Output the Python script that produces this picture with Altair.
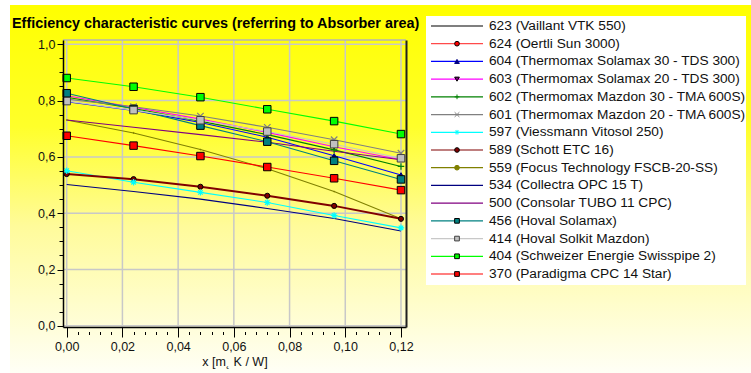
import altair as alt
import pandas as pd

FONT = "Liberation Sans"
TITLE = "Efficiency characteristic curves (referring to Absorber area)"
X_TITLE = "x [m˛ K / W]"

SERIES = [
    "623 (Vaillant VTK 550)",
    "624 (Oertli Sun 3000)",
    "604 (Thermomax Solamax 30 - TDS 300)",
    "603 (Thermomax Solamax 20 - TDS 300)",
    "602 (Thermomax Mazdon 30 - TMA 600S)",
    "601 (Thermomax Mazdon 20 - TMA 600S)",
    "597 (Viessmann Vitosol 250)",
    "589 (Schott ETC 16)",
    "559 (Focus Technology FSCB-20-SS)",
    "534 (Collectra OPC 15 T)",
    "500 (Consolar TUBO 11 CPC)",
    "456 (Hoval Solamax)",
    "414 (Hoval Solkit Mazdon)",
    "404 (Schweizer Energie Swisspipe 2)",
    "370 (Paradigma CPC 14 Star)",
]

X_POINTS = [0.0, 0.024, 0.048, 0.072, 0.096, 0.12]

S604 = [0.796, 0.765, 0.722, 0.670, 0.604, 0.536]
S603 = [0.817, 0.776, 0.734, 0.687, 0.636, 0.590]
S602 = [0.812, 0.772, 0.727, 0.679, 0.625, 0.566]
S601 = [0.805, 0.778, 0.745, 0.705, 0.661, 0.613]
S597 = [0.551, 0.510, 0.474, 0.438, 0.392, 0.348]
S589 = [0.539, 0.521, 0.494, 0.462, 0.426, 0.380]
S559 = [0.731, 0.685, 0.626, 0.558, 0.477, 0.380]
S534 = [0.502, 0.477, 0.450, 0.417, 0.381, 0.337]
S500 = [0.731, 0.705, 0.679, 0.652, 0.620, 0.590]
S456 = [0.826, 0.770, 0.711, 0.654, 0.586, 0.520]
S414 = [0.798, 0.766, 0.730, 0.690, 0.645, 0.595]
S404 = [0.880, 0.849, 0.812, 0.769, 0.727, 0.681]
S370 = [0.675, 0.640, 0.603, 0.564, 0.524, 0.482]

VALUES = {
    SERIES[2]: S604, SERIES[3]: S603, SERIES[4]: S602, SERIES[5]: S601,
    SERIES[6]: S597, SERIES[7]: S589, SERIES[8]: S559, SERIES[9]: S534,
    SERIES[10]: S500, SERIES[11]: S456, SERIES[12]: S414, SERIES[13]: S404,
    SERIES[14]: S370,
}

X_MAJOR = [0.0, 0.02, 0.04, 0.06, 0.08, 0.10, 0.12]
X_TICKS = [round(i * 0.004, 3) for i in range(31)]
Y_MAJOR = [0.0, 0.2, 0.4, 0.6, 0.8, 1.0]
Y_TICKS = [round(i * 0.05, 2) for i in range(21)]

# styles
LINE_COLORS = ["#000000", "#ff4a4a", "#0000ff", "#ff00ff", "#008000", "#808080",
               "#00ffff", "#800000", "#808000", "#000080", "#800080", "#008080",
               "#c8c8c8", "#00ff00", "#ff0000"]
PLUS = "M-1,0L1,0M0,-1L0,1"
XMARK = "M-1,-1L1,1M-1,1L1,-1"
ASTER = "M-1,0L1,0M0,-1L0,1M-0.7,-0.7L0.7,0.7M-0.7,0.7L0.7,-0.7"
MARKER_SERIES = [SERIES[i] for i in [1, 2, 3, 4, 5, 6, 7, 8, 11, 12, 13, 14]]
SHAPES = ["circle", "triangle-up", "triangle-down", PLUS, XMARK, ASTER, "circle",
          "circle", "square", "square", "square", "square"]
FILLS = ["#ff0000", "#000080", "#800080", "transparent", "transparent", "transparent",
         "#800000", "#808000", "#008080", "#c0c0c0", "#00ff00", "#ff0000"]
STROKES = ["#000000", "#000080", "#000000", "#008000", "#808080", "#00ffff",
           "#000000", "#808000", "#000000", "#404040", "#000000", "#000000"]
SQUARE_SERIES = [SERIES[i] for i in [11, 12, 13, 14]]
SMALL_SERIES = [SERIES[i] for i in [1, 2, 3, 7]]
STAR_SERIES = [SERIES[i] for i in [4, 5, 6]]
DOT_SERIES = [SERIES[8]]
THICK_SERIES = [SERIES[7]]

rows = []
for s in SERIES:
    if s in VALUES:
        for xv, yv in zip(X_POINTS, VALUES[s]):
            rows.append({"series": s, "x": xv, "y": yv})
df = pd.DataFrame(rows)
leg_df = pd.DataFrame({"series": SERIES})
one = pd.DataFrame({"a": [0]})

W, H = 343, 287
xscale = alt.Scale(domain=[-0.00133, 0.1218], nice=False, zero=False)
yscale = alt.Scale(domain=[-0.004, 1.015], nice=False, zero=False)

x_major_test = "abs(datum.value*50 - round(datum.value*50)) < 0.001"
y_major_test = "abs(datum.value*5 - round(datum.value*5)) < 0.001"

xaxis = alt.Axis(
    values=X_TICKS, title=X_TITLE, grid=False, zindex=1,
    labelExpr=f"{x_major_test} ? replace(format(datum.value, '.2f'), '.', ',') : ''",
    tickSize={"condition": {"test": x_major_test, "value": 10}, "value": 8},
    tickDash={"condition": {"test": x_major_test, "value": [20, 0]}, "value": [0, 4.5, 3, 20]},
    tickColor="black", tickWidth=1, domainColor="black", domainWidth=1.5,
    labelFont=FONT, labelFontSize=12.5, labelColor="#111111", labelPadding=3,
    labelOverlap=False, labelFlush=False,
    titleFont=FONT, titleFontSize=12.5, titleFontWeight="normal", titleColor="#111111",
    titlePadding=3,
)
yaxis = alt.Axis(
    values=Y_TICKS, title=None, grid=False, zindex=1,
    labelExpr=f"{y_major_test} ? replace(format(datum.value, '.1f'), '.', ',') : ''",
    tickSize={"condition": {"test": y_major_test, "value": 6}, "value": 4},
    tickColor="black", tickWidth=1, domainColor="black", domainWidth=1.5,
    labelFont=FONT, labelFontSize=12.5, labelColor="#111111", labelPadding=2,
    labelOverlap=False, labelFlush=False,
)
yaxis_right = alt.Axis(orient="right", labels=False, ticks=False, grid=False, title=None,
                       domainColor="#202020", domainWidth=2, zindex=1)

color_enc = alt.Color("series:N", scale=alt.Scale(domain=SERIES, range=LINE_COLORS), legend=None)
shape_enc = alt.Shape("series:N", scale=alt.Scale(domain=MARKER_SERIES, range=SHAPES), legend=None)
fill_enc = alt.Fill("series:N", scale=alt.Scale(domain=MARKER_SERIES, range=FILLS), legend=None)
stroke_enc = alt.Stroke("series:N", scale=alt.Scale(domain=MARKER_SERIES, range=STROKES), legend=None)

X = alt.X("x:Q", scale=xscale, axis=xaxis)
Y_none = alt.Y("y:Q", scale=yscale, axis=None)

gradient = alt.LinearGradient(
    gradient="linear", x1=0, x2=0, y1=0, y2=1,
    stops=[alt.GradientStop(offset=0, color="#ffff00"),
           alt.GradientStop(offset=0.33, color="#ffff2a"),
           alt.GradientStop(offset=0.6, color="#fffb9a"),
           alt.GradientStop(offset=1, color="#fffff6")],
)
bg = alt.Chart(one).mark_rect(fill=gradient, strokeWidth=0, strokeOpacity=0).encode(
    x=alt.value(-53), x2=alt.value(688), y=alt.value(-35), y2=alt.value(333))

grid_x = alt.Chart(pd.DataFrame({"x": X_MAJOR})).mark_rule(color="#c8c8c8", strokeWidth=1.5).encode(x=X)
grid_y = alt.Chart(pd.DataFrame({"y": Y_MAJOR})).mark_rule(color="#c8c8c8", strokeWidth=1.5).encode(y=Y_none)
frame_top = alt.Chart(one).mark_rule(color="#b4b4b4", strokeWidth=1.5).encode(
    x=alt.value(0), x2=alt.value(W), y=alt.value(0))

lines = alt.Chart(df).transform_filter(
    ~alt.FieldOneOfPredicate(field="series", oneOf=THICK_SERIES)
).mark_line(strokeWidth=1.1).encode(
    x=X, y=alt.Y("y:Q", scale=yscale, axis=yaxis), color=color_enc)
thick = alt.Chart(df).transform_filter(
    alt.FieldOneOfPredicate(field="series", oneOf=THICK_SERIES)
).mark_line(strokeWidth=2).encode(
    x=X, y=alt.Y("y:Q", scale=yscale, axis=yaxis_right), color=color_enc)


def marker_layer(names, size, sw=1):
    return alt.Chart(df).transform_filter(
        alt.FieldOneOfPredicate(field="series", oneOf=names)
    ).mark_point(size=size, opacity=1, fillOpacity=1, strokeWidth=sw).encode(
        x=X, y=Y_none, shape=shape_enc, fill=fill_enc, stroke=stroke_enc)


pts_small = marker_layer(SMALL_SERIES, 26)
pts_star = marker_layer(STAR_SERIES, 42, 1.2)
pts_dot = marker_layer(DOT_SERIES, 1.5, 0.5)
pts_sq = marker_layer(SQUARE_SERIES, 56)

title = alt.Chart(pd.DataFrame({"t": [TITLE]})).mark_text(
    align="left", baseline="alphabetic", font=FONT, fontSize=14.4, fontWeight="bold", color="black"
).encode(x=alt.value(-51), y=alt.value(-12), text="t:N")

leg_y = alt.Y("series:N", scale=alt.Scale(type="point", domain=SERIES, range=[-14, 234], padding=0), axis=None)
leg_box = alt.Chart(one).mark_rect(fill="white", strokeWidth=0, strokeOpacity=0).encode(
    x=alt.value(363), x2=alt.value(683), y=alt.value(-24), y2=alt.value(245))
leg_rules = alt.Chart(leg_df).mark_rule(strokeWidth=1.2).encode(
    x=alt.value(368), x2=alt.value(420), y=leg_y, color=color_enc)
leg_marks = alt.Chart(leg_df).transform_filter(
    alt.FieldOneOfPredicate(field="series", oneOf=MARKER_SERIES)
).mark_point(size=22, opacity=1, fillOpacity=1, strokeWidth=1).encode(
    x=alt.value(394), y=leg_y, shape=shape_enc, fill=fill_enc, stroke=stroke_enc)
leg_text = alt.Chart(leg_df).mark_text(
    align="left", baseline="middle", font=FONT, fontSize=13.7, color="#111111"
).encode(x=alt.value(426), y=leg_y, text="series:N")

chart = alt.layer(
    bg, grid_x, grid_y, frame_top, lines, thick, pts_dot, pts_small, pts_star, pts_sq,
    title, leg_box, leg_rules, leg_marks, leg_text,
).resolve_scale(y="independent").properties(
    width=W, height=H,
    autosize=alt.AutoSizeParams(type="none"),
    padding={"left": 63, "top": 40, "right": 345, "bottom": 46},
    background="white",
).configure_view(stroke=None)

chart.save("out.html", embed_options={"renderer": "svg", "actions": False})
